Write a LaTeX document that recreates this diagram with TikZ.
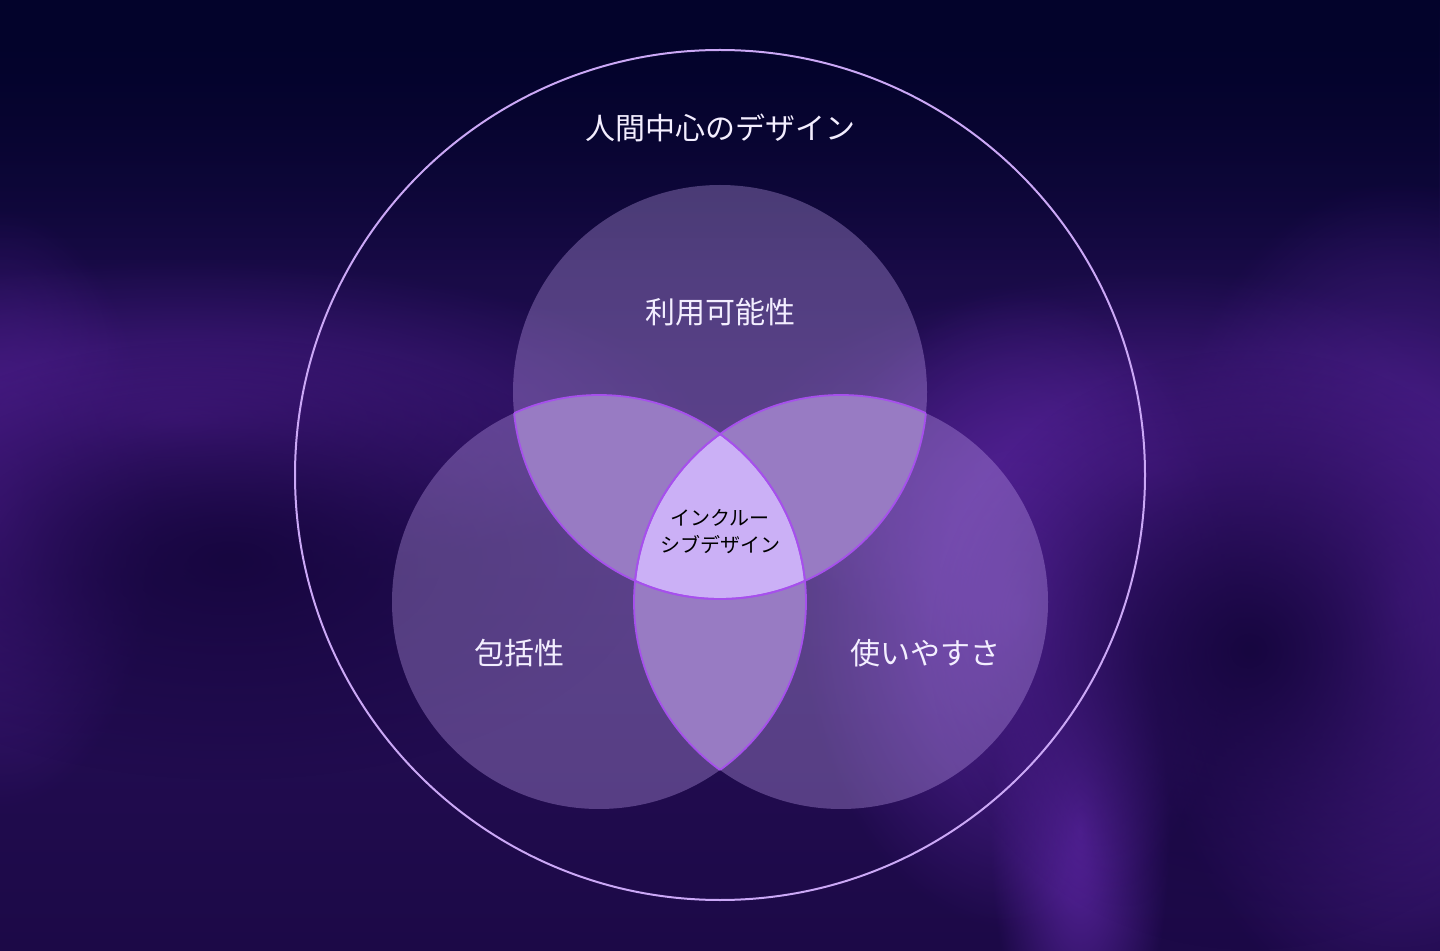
\documentclass[tikz,border=0pt]{standalone}
\usepackage{fontspec}
\newfontfamily\jp{Noto Sans CJK JP}
\usetikzlibrary{fadings}
\definecolor{bgtop}{HTML}{03032B}
\definecolor{bgmid}{HTML}{28105A}
\definecolor{bgbot}{HTML}{1C0947}
\definecolor{glow}{HTML}{4A1C88}
\definecolor{glowb}{HTML}{5A25A0}
\definecolor{dark}{HTML}{170640}
\definecolor{single}{HTML}{C8A8F5}
\definecolor{pair}{HTML}{987BC3}
\definecolor{triple}{HTML}{CBB0F6}
\definecolor{lensline}{HTML}{A650EC}
\definecolor{ring}{HTML}{CBA8F6}
\definecolor{titlec}{HTML}{F3EEFF}
\tikzfading[name=softglow, inner color=transparent!0, outer color=transparent!100]
\tikzset{
  onecircle/.style={fill=single, fill opacity=0.33},
  pairfill/.style={fill=pair},
  triplefill/.style={fill=triple},
  lensstroke/.style={draw=lensline, line width=0.9pt},
  label/.style={text=titlec, font=\jp\fontsize{15}{18}\selectfont, inner sep=0pt},
  inner/.style={text=black, font=\jp\fontsize{10}{13.5}\selectfont, align=center, inner sep=0pt},
  blob/.style={path fading=softglow}
}
\begin{document}
\begin{tikzpicture}[x=0.5pt,y=-0.5pt]
\useasboundingbox (0,0) rectangle (1440,951);
% background
\shade[top color=bgtop, bottom color=bgbot, middle color=bgmid] (0,0) rectangle (1440,951);
\fill[bgtop, path fading=south] (0,0) rectangle (1440,260);
% glows
\fill[glow, blob] (180,420) ellipse (520 and 160);
\fill[glow, blob] (0,510) ellipse (160 and 300);
\fill[glowb, blob] (1400,600) ellipse (260 and 420);
\fill[glow, blob] (1150,470) ellipse (420 and 200);
\fill[glowb, blob] (1080,830) ellipse (90 and 260);
\fill[glowb, blob] (1020,610) ellipse (220 and 320);
\fill[dark, blob] (230,560) ellipse (420 and 220);
\fill[dark, blob] (1250,650) ellipse (320 and 300);
% centres
\coordinate (O) at (720,475);
\coordinate (T) at (720,392);
\coordinate (L) at (599,602);
\coordinate (R) at (841,602);
% outer ring
\draw[ring, line width=1pt] (O) circle (425);
% single circles
\fill[onecircle] (T) circle (207);
\fill[onecircle] (L) circle (207);
\fill[onecircle] (R) circle (207);
% pair lenses
\begin{scope}\clip (T) circle (207); \fill[pairfill] (L) circle (207); \fill[pairfill] (R) circle (207);\end{scope}
\begin{scope}\clip (L) circle (207); \fill[pairfill] (R) circle (207);\end{scope}
% triple
\begin{scope}\clip (T) circle (207); \clip (L) circle (207); \fill[triplefill] (R) circle (207);\end{scope}
% lens strokes
\begin{scope}\clip (T) circle (207); \draw[lensstroke] (L) circle (207); \draw[lensstroke] (R) circle (207);\end{scope}
\begin{scope}\clip (L) circle (207); \draw[lensstroke] (T) circle (207); \draw[lensstroke] (R) circle (207);\end{scope}
\begin{scope}\clip (R) circle (207); \draw[lensstroke] (T) circle (207); \draw[lensstroke] (L) circle (207);\end{scope}
% labels
\node[label] (title) at (720,128) {人間中心のデザイン};
\node[label] (avail) at (720,312) {利用可能性};
\node[label] (incl) at (519,653) {包括性};
\node[label] (use) at (925,653) {使いやすさ};
\node[inner] (center) at (720,532) {インクルー\\シブデザイン};
\end{tikzpicture}
\end{document}
